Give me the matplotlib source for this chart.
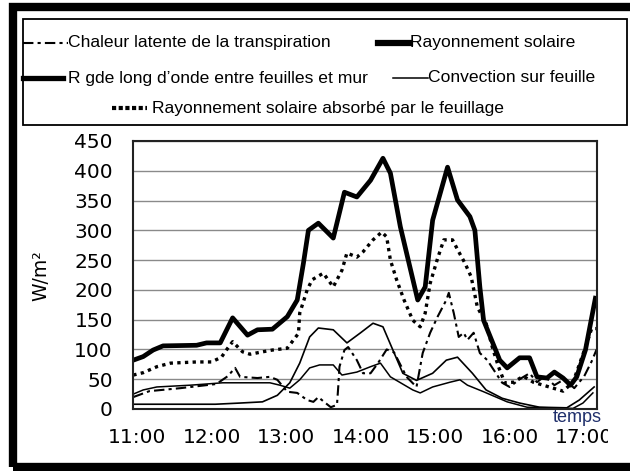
import matplotlib
matplotlib.use('Agg')
import matplotlib.pyplot as plt
from matplotlib.lines import Line2D
from matplotlib.patches import Rectangle
from matplotlib.transforms import Bbox, TransformedBbox

# minutes after 11:00, values in W/m2
solaire_t = [-3, 5, 13, 21, 48, 56, 67, 77, 89, 97, 109, 121, 129, 134, 138, 146, 158, 167, 177, 188,
             198, 204, 212, 226, 232, 238, 250, 258, 268, 272, 276, 279, 292, 298, 308, 316, 322, 330,
             336, 343, 349, 354, 361, 369]
solaire_w = [82, 88, 99, 106, 107, 111, 111, 153, 124, 133, 134, 155, 183, 245, 300, 312, 287, 364, 356, 384,
             421, 396, 306, 183, 205, 317, 406, 351, 323, 300, 205, 149, 82, 69, 86, 86, 54, 52,
             62, 52, 40, 54, 99, 186]

absorbe_t = [-3, 5, 16, 27, 48, 60, 68, 73, 77, 85, 91, 101, 109, 121, 126, 130, 131, 137, 141, 145,
             150, 158, 165, 169, 177, 182, 190, 197, 201, 204, 209, 215, 222, 228, 232, 236, 242, 247,
             254, 259, 264, 269, 274, 281, 286, 291, 296, 303, 311, 319, 327, 335, 343, 351, 357, 362,
             366, 370]
absorbe_w = [57, 61, 71, 77, 79, 79, 87, 102, 113, 96, 92, 96, 99, 102, 116, 127, 161, 200, 217, 222,
             228, 205, 233, 262, 255, 264, 284, 297, 289, 250, 217, 183, 149, 138, 161, 211, 253, 284,
             284, 264, 245, 222, 171, 144, 104, 71, 44, 45, 55, 45, 40, 35, 30, 45, 80, 110,
             135, 135]

latente_t = [-3, 10, 35, 64, 73, 79, 83, 97, 107, 113, 121, 129, 137, 142, 146, 150, 156, 161, 162, 163,
             167, 170, 177, 182, 188, 194, 201, 207, 217, 225, 230, 236, 242, 249, 251, 255, 259, 263,
             266, 271, 276, 282, 294, 300, 308, 316, 322, 328, 336, 344, 352, 360, 366, 370]
latente_w = [20, 30, 35, 42, 55, 69, 54, 52, 54, 49, 29, 27, 15, 12, 20, 13, 3, 7, 37, 71,
             99, 104, 82, 60, 60, 77, 100, 95, 54, 37, 94, 128, 155, 183, 195, 161, 121, 128,
             116, 128, 94, 82, 44, 37, 50, 60, 45, 55, 40, 50, 35, 55, 80, 100]

rgde_t = [-3, 35, 63, 83, 101, 113, 123, 131, 139, 146, 158, 169, 180, 190, 198, 206, 214, 225, 238,
          249, 258, 270, 281, 294, 308, 324, 346, 356, 368]
rgde_w = [8, 8, 8, 10, 12, 23, 44, 77, 121, 136, 133, 111, 128, 144, 138, 99, 60, 48, 60,
          82, 87, 60, 32, 18, 10, 3, 2, 15, 37]

convection_t = [-3, 5, 16, 43, 69, 89, 107, 115, 123, 131, 139, 147, 158, 165, 177, 188, 196, 204, 222,
                228, 238, 252, 260, 266, 279, 298, 314, 351, 359, 367]
convection_w = [25, 32, 37, 40, 44, 44, 44, 40, 35, 49, 69, 74, 74, 57, 62, 71, 77, 54, 32,
                27, 37, 45, 49, 40, 29, 12, 3, 1, 10, 27]

hour_ticks = [0, 60, 120, 180, 240, 300, 360]
hour_labels = ['11:00', '12:00', '13:00', '14:00', '15:00', '16:00', '17:00']

W, H = 630, 471


def px(x, y):
    return x / W, 1 - y / H


st_latente = dict(color='black', lw=1.5, linestyle=(0, (5, 2, 1.5, 2)))
st_solaire = dict(color='black', lw=3.4, solid_joinstyle='round')
st_rgde = dict(color='black', lw=1.2)
st_conv = dict(color='black', lw=1.1)
st_abs = dict(color='black', lw=2.4, linestyle=(0, (1, 1.3)))

fig = plt.figure(figsize=(6.3, 4.71), dpi=100)
fig.patch.set_facecolor('white')
ax = fig.add_axes([133 / W, 1 - 409 / H, 464 / W, 268 / H])

ax.plot(rgde_t, rgde_w, **st_rgde)
ax.plot(convection_t, convection_w, **st_conv)
ax.plot(latente_t, latente_w, **st_latente)
ax.plot(absorbe_t, absorbe_w, **st_abs)
ax.plot(solaire_t, solaire_w, **st_solaire)

ax.set_xlim(-3.2, 370.3)
ax.set_ylim(0, 450)
ax.set_yticks(range(0, 451, 50))
ax.yaxis.grid(True, color='#8a8a8a', lw=1)
ax.set_axisbelow(True)
ax.set_xticks(hour_ticks)
ax.set_xticklabels(hour_labels)
ax.tick_params(axis='y', length=0, pad=14.5, labelsize=14.5)
ax.tick_params(axis='x', length=0, pad=13.5, labelsize=14.5)
for s in ax.spines.values():
    s.set_linewidth(1.5)
    s.set_color('#222222')

ax.set_ylabel('W/m²', fontsize=13.5)
ax.yaxis.set_label_coords(-0.179, 0.496)

# last hour label is cut by the page edge in the scan
clip = TransformedBbox(Bbox([[0, 0], [608 / W, 1]]), fig.transFigure)
for lbl in ax.get_xticklabels():
    lbl.set_clip_box(clip)
    lbl.set_clip_on(True)

fig.text(*px(577, 422), 'temps', ha='center', va='baseline', fontsize=13,
         family='Liberation Sans', color='#1f2f6b')

# legend box drawn by hand, the way the scan has it
fig.add_artist(Rectangle(px(23, 125), 604 / W, 106 / H, transform=fig.transFigure,
                         fill=False, edgecolor='black', lw=1.3))
leg_font = dict(fontsize=12.6, family='Liberation Sans', va='center', ha='left')
items = [
    (23, 68, 43, st_latente, 68, 'Chaleur latente de la transpiration'),
    (378, 410, 43, dict(color='black', lw=4.5), 410, 'Rayonnement solaire'),
    (23, 63, 78, dict(color='black', lw=3.8), 68, 'R gde long d\u2019onde entre feuilles et mur'),
    (393, 428, 78, st_conv, 428, 'Convection sur feuille'),
    (112, 147, 108, dict(color='black', lw=3, linestyle=(0, (1, 0.6))), 152,
     'Rayonnement solaire absorbé par le feuillage'),
]
for x0, x1, y, style, tx, label in items:
    (a, b), (c, d) = px(x0, y), px(x1, y)
    fig.add_artist(Line2D([a, c], [b, d], transform=fig.transFigure, **style))
    fig.text(*px(tx, y), label, **leg_font)

# thick black frame of the scanned page
fig.add_artist(Rectangle(px(13, 467), 640 / W, 460 / H, transform=fig.transFigure,
                         fill=False, edgecolor='black', lw=6))

fig.savefig('out.png', dpi=100)
